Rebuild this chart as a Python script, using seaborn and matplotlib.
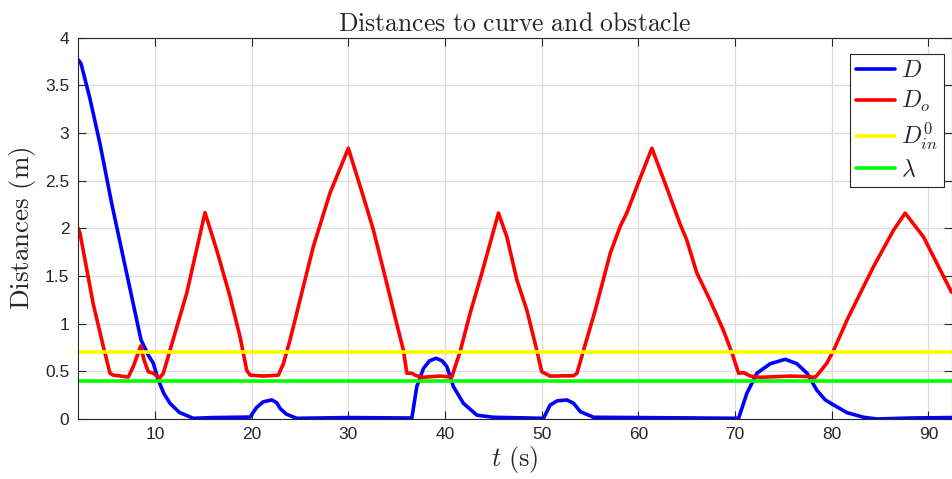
import matplotlib
matplotlib.use("Agg")
import pandas as pd
import seaborn as sns
from matplotlib import pyplot as plt

# D: distance to curve
t_d = [2.0, 2.34, 3.27, 4.3, 5.52, 7.0, 8.55, 9.3, 9.82, 10.34, 10.9, 11.55,
       12.5, 13.96, 16.0, 19.84, 20.5, 21.2, 22.08, 22.6, 22.94, 23.6, 24.66,
       30.0, 36.57, 37.08, 37.77, 38.4, 39.08, 39.7, 40.19, 40.87, 41.9, 43.3,
       45.0, 50.19, 50.88, 51.6, 52.6, 53.3, 54.0, 55.36, 60.0, 70.37, 71.23,
       72.27, 73.65, 75.2, 76.4, 77.45, 78.48, 79.34, 80.2, 81.6, 83.3, 84.7,
       88.0, 92.4]
d_curve = [3.775, 3.73, 3.36, 2.89, 2.26, 1.56, 0.83, 0.67, 0.585, 0.41, 0.27,
           0.165, 0.07, 0.007, 0.015, 0.02, 0.12, 0.18, 0.2, 0.17, 0.11, 0.05,
           0.007, 0.015, 0.01, 0.34, 0.53, 0.61, 0.637, 0.61, 0.55, 0.34, 0.165,
           0.04, 0.018, 0.007, 0.147, 0.19, 0.2, 0.165, 0.077, 0.018, 0.015,
           0.007, 0.27, 0.48, 0.58, 0.626, 0.58, 0.48, 0.30, 0.2, 0.147, 0.066,
           0.018, 0.0, 0.01, 0.015]

# D_o: distance to obstacle
t_o = [2.0, 2.24, 3.6, 4.65, 5.34, 5.68, 7.24, 7.75, 8.52, 8.86, 9.3, 9.82,
       10.45, 10.86, 11.55, 13.28, 15.17, 16.39, 17.77, 18.8, 19.49, 19.84,
       21.2, 22.76, 23.28, 23.97, 26.38, 28.1, 30.0, 31.56, 32.6, 33.98, 35.0,
       35.7, 36.05, 36.57, 36.9, 37.6, 39.5, 40.7, 41.57, 42.6, 43.81, 45.53,
       46.4, 47.43, 48.47, 49.5, 50.0, 50.88, 53.3, 53.65, 54.33, 55.54, 57.1,
       58.12, 58.8, 60.2, 61.4, 62.26, 62.96, 64.3, 65.0, 66.06, 67.4, 68.8,
       69.7, 70.37, 70.9, 71.6, 72.6, 75.7, 77.45, 78.3, 78.8, 79.5, 80.2,
       81.6, 82.96, 84.34, 86.4, 87.6, 89.5, 90.9, 92.4]
d_obst = [2.01, 1.95, 1.21, 0.76, 0.48, 0.46, 0.44, 0.55, 0.766, 0.62, 0.496,
          0.48, 0.427, 0.48, 0.72, 1.32, 2.165, 1.77, 1.28, 0.86, 0.51, 0.46,
          0.45, 0.46, 0.58, 0.83, 1.81, 2.37, 2.84, 2.33, 1.98, 1.42, 1.0, 0.72,
          0.48, 0.48, 0.46, 0.437, 0.45, 0.44, 0.71, 1.11, 1.53, 2.16, 1.91,
          1.46, 1.14, 0.72, 0.496, 0.45, 0.454, 0.48, 0.72, 1.14, 1.74, 2.02,
          2.16, 2.53, 2.84, 2.61, 2.42, 2.05, 1.88, 1.53, 1.25, 0.93, 0.69,
          0.48, 0.486, 0.45, 0.437, 0.45, 0.445, 0.437, 0.496, 0.585, 0.72,
          1.04, 1.32, 1.60, 1.98, 2.16, 1.91, 1.63, 1.33]

t_span = [2.0, 92.4]
d_in0 = 0.7
lam = 0.4

x_ticks = [10, 20, 30, 40, 50, 60, 70, 80, 90]
y_ticks = [0, 0.5, 1, 1.5, 2, 2.5, 3, 3.5, 4]
y_tick_labels = ["0", "0.5", "1", "1.5", "2", "2.5", "3", "3.5", "4"]

sns.set_style("ticks")
plt.rcParams["font.family"] = ["Liberation Sans", "DejaVu Sans"]
plt.rcParams["mathtext.fontset"] = "cm"

fig = plt.figure(figsize=(9.52, 4.79), dpi=100)
ax = fig.add_axes([0.0816, 0.1253, 0.9179, 0.796])

lw = 2.6
sns.lineplot(x=t_d, y=d_curve, color="#0000ff", lw=lw, label="$D$", ax=ax,
             sort=False)
sns.lineplot(x=t_o, y=d_obst, color="#ff0000", lw=lw, label="$D_o$", ax=ax,
             sort=False)
sns.lineplot(x=t_span, y=[d_in0, d_in0], color="#ffff00", lw=lw,
             label="$D_{in}^0$", ax=ax)
sns.lineplot(x=t_span, y=[lam, lam], color="#00ff00", lw=lw,
             label=r"$\lambda$", ax=ax)

ax.set_xlim(t_span)
ax.set_ylim(0, 4)
ax.set_xticks(x_ticks)
ax.set_yticks(y_ticks)
ax.set_yticklabels(y_tick_labels)
ax.grid(True, color="#dcdcdc", lw=0.9)
ax.set_axisbelow(True)

for side in ["top", "right", "left", "bottom"]:
    ax.spines[side].set_visible(True)
    ax.spines[side].set_color("#262626")
    ax.spines[side].set_linewidth(0.8)
ax.tick_params(direction="in", length=6, width=0.8, top=True, right=True,
               colors="#262626", labelsize=12.5, pad=6)

ax.set_title(r"$\mathrm{Distances\ to\ curve\ and\ obstacle}$", fontsize=18.5,
             pad=5)
ax.set_xlabel(r"$t\ \mathrm{(s)}$", fontsize=19, labelpad=1)
ax.set_ylabel(r"$\mathrm{Distances\ (m)}$", fontsize=19.5, labelpad=5)

leg = ax.legend(loc="upper right", bbox_to_anchor=(0.991, 0.956),
                borderaxespad=0, fontsize=17, handlelength=1.65,
                handletextpad=0.25, labelspacing=0.28, borderpad=0.25,
                fancybox=False, framealpha=1, edgecolor="#262626")
leg.get_frame().set_linewidth(0.8)

fig.savefig("out.png", dpi=100)
plt.close(fig)
